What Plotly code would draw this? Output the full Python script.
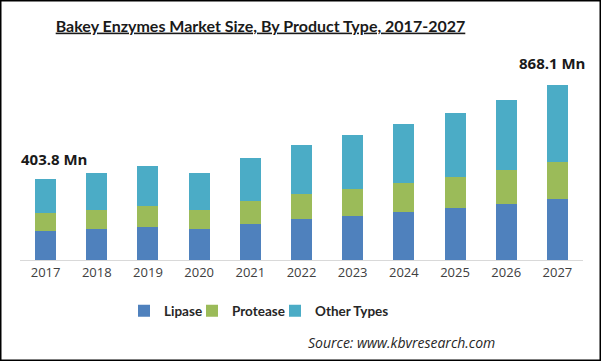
import plotly.graph_objects as go

years = ["2017", "2018", "2019", "2020", "2021", "2022", "2023", "2024", "2025", "2026", "2027"]
lipase = [145, 154, 164, 154, 179, 204, 219, 239, 258, 278, 303]
protease = [90, 94, 104, 94, 114, 124, 134, 144, 154, 169, 184]
other_types = [168.8, 184, 199, 184, 214, 244, 268, 293, 318, 348, 381.1]
series_names = ["Lipase", "Protease", "Other Types"]
colors = ["#4F81BD", "#9BBB59", "#4BACC6"]
first_label = "403.8 Mn"
last_label = "868.1 Mn"

W, H = 601, 361
L, R, T, B = 20, 18, 60, 101
PW, PH = W - L - R, H - T - B


def px(x):
    return (x - L) / PW


def py(y):
    return (H - B - y) / PH


legend_widths = [23, 38, 70]

fig = go.Figure()
for name, vals, col, lw in zip(series_names, [lipase, protease, other_types], colors, legend_widths):
    fig.add_trace(go.Bar(x=years, y=vals, name=name, marker=dict(color=col, line=dict(width=0)),
                         width=0.41, legendwidth=lw))

fig.update_layout(
    barmode="stack",
    width=W, height=H,
    margin=dict(l=L, r=R, t=T, b=B, autoexpand=False),
    plot_bgcolor="white", paper_bgcolor="white",
    font=dict(family="Open Sans", color="#404040"),
    title=dict(text="<b><u>Bakey Enzymes Market Size, By Product Type, 2017-2027</u></b>",
               x=px(260.5), xref="paper", xanchor="center", y=1 - 26 / H, yanchor="middle",
               font=dict(family="Lato", size=16, color="#1a1a1a")),
    xaxis=dict(showgrid=False, showline=True, linecolor="#d9d9d9", linewidth=1, ticks="",
               tickfont=dict(size=13, color="#404040"), fixedrange=True),
    yaxis=dict(range=[0, 994], showgrid=False, showticklabels=False, zeroline=False, visible=False),
    legend=dict(orientation="h", x=px(124), xanchor="left", y=py(311), yanchor="middle",
                font=dict(size=13.5, color="#262626", family="Lato", weight="bold"),
                itemwidth=30, traceorder="normal", tracegroupgap=0),
    showlegend=True,
    bargap=0.59,
)

fig.add_annotation(x=px(19), y=py(159), xref="paper", yref="paper", text="<b>" + first_label + "</b>",
                   showarrow=False, xanchor="left", yanchor="middle",
                   font=dict(size=15, color="#1a1a1a", family="Open Sans"))
fig.add_annotation(x=px(587), y=py(63), xref="paper", yref="paper", text="<b>" + last_label + "</b>",
                   showarrow=False, xanchor="right", yanchor="middle",
                   font=dict(size=15, color="#1a1a1a", family="Open Sans"))
fig.add_annotation(x=px(497), y=py(342), xref="paper", yref="paper",
                   text="<i>Source: www.kbvresearch.com</i>",
                   showarrow=False, xanchor="right", yanchor="middle",
                   font=dict(size=14, color="#262626", family="Open Sans"))

fig.add_shape(type="rect", xref="paper", yref="paper",
              x0=px(0.75), x1=px(600.25), y0=py(360.25), y1=py(0.75),
              line=dict(color="black", width=1.5), fillcolor="rgba(0,0,0,0)", layer="above")

fig.write_html("out.html", config={"displayModeBar": False},
               post_script="document.body.style.margin='0';")
